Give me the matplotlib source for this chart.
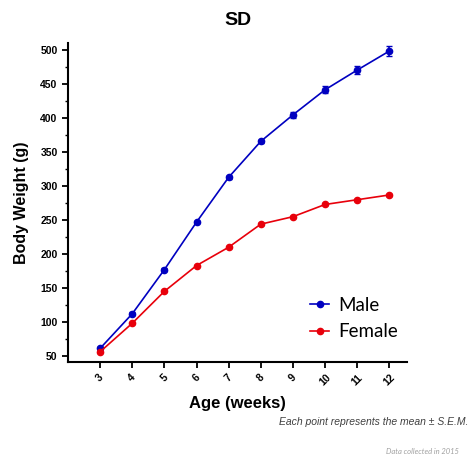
import matplotlib
matplotlib.use("Agg")
import matplotlib.pyplot as plt
from matplotlib.ticker import MultipleLocator
from matplotlib.lines import Line2D

weeks = [3, 4, 5, 6, 7, 8, 9, 10, 11, 12]
male = [61, 112, 177, 247, 313, 366, 405, 442, 471, 499]
male_sem = [2, 2, 2, 2, 2, 2, 4, 5, 6, 7]
female = [56, 98, 145, 183, 210, 244, 255, 273, 280, 287]
female_sem = [1, 1, 1, 1, 1, 1, 1, 1, 1, 1]
tick_labels = [str(w) for w in weeks]

male_color = '#0000c0'
female_color = '#e8000b'

plt.rcParams['font.family'] = ['Liberation Sans', 'DejaVu Sans']

fig = plt.figure(figsize=(4.74, 4.67), dpi=100)
ax = fig.add_axes([0.1435, 0.225, 0.715, 0.683])

ax.errorbar(weeks, male, yerr=male_sem, color=male_color, marker='o', markersize=4.5,
            linewidth=1.2, capsize=2.5, elinewidth=1.2)
ax.errorbar(weeks, female, yerr=female_sem, color=female_color, marker='o', markersize=4.5,
            linewidth=1.2, capsize=2.5, elinewidth=1.2)

ax.set_xlim(2.0, 12.55)
ax.set_ylim(41, 511)
ax.set_xticks(weeks)
ax.set_xticklabels(tick_labels, rotation=45, fontweight='bold', fontsize=7.5)
ax.yaxis.set_major_locator(MultipleLocator(50))
ax.yaxis.set_minor_locator(MultipleLocator(25))
for lab in ax.get_yticklabels():
    lab.set_fontweight('bold')
    lab.set_fontsize(7.5)

for s in ['top', 'right']:
    ax.spines[s].set_visible(False)
for s in ['left', 'bottom']:
    ax.spines[s].set_linewidth(1.5)
ax.tick_params(axis='both', which='major', width=1.3, length=4, direction='out')
ax.tick_params(axis='y', which='minor', width=1.0, length=2.5)

ax.set_xlabel('Age (weeks)', fontsize=12, fontweight='bold', labelpad=6)
ax.set_ylabel('Body Weight (g)', fontsize=11.5, fontweight='bold', labelpad=8)
fig.text(0.502, 0.957, 'SD', ha='center', va='center', fontsize=14, fontweight='bold')

handles = [Line2D([], [], color=male_color, marker='o', markersize=4.5, linewidth=1.2),
           Line2D([], [], color=female_color, marker='o', markersize=4.5, linewidth=1.2)]
leg = fig.legend(handles, ['Male', 'Female'], loc='center left',
                 bbox_to_anchor=(0.655, 0.318), frameon=False,
                 prop={'family': ['Lato', 'DejaVu Sans'], 'size': 13.5},
                 handlelength=1.0, handletextpad=0.5, labelspacing=0.5,
                 borderpad=0, borderaxespad=0)

fig.text(0.988, 0.097, 'Each point represents the mean \u00b1 S.E.M.', ha='right', va='center',
         fontsize=7.5, style='italic', color='#404040')
fig.text(0.968, 0.034, 'Data collected in 2015', ha='right', va='center',
         fontsize=5.5, style='italic', color='#a0a0a0', family=['Lato', 'DejaVu Sans'])

fig.savefig('out.png', dpi=100)
